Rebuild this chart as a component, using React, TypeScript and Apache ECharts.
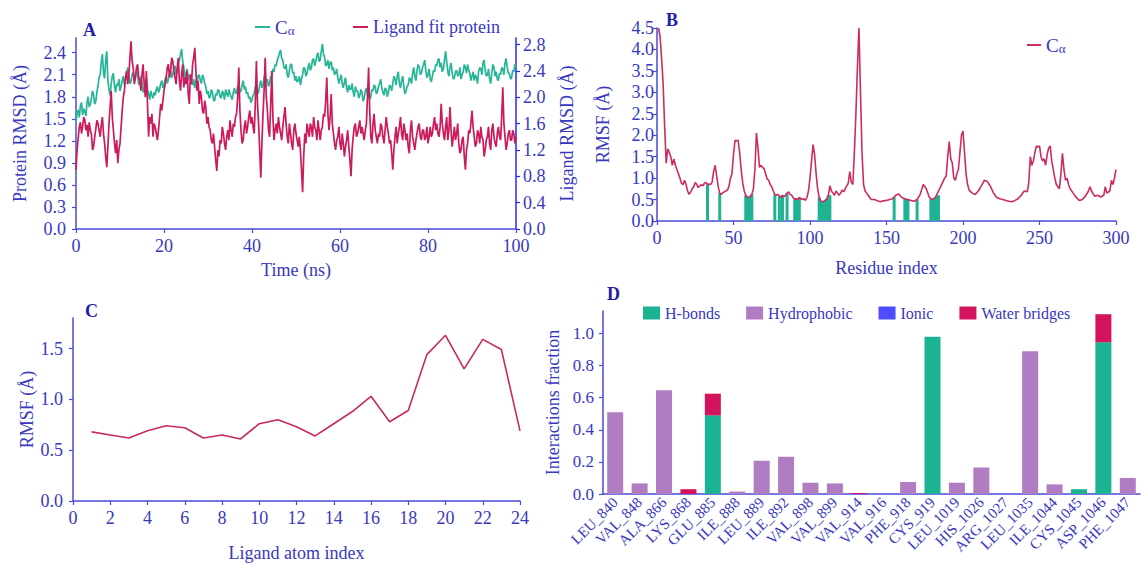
import React, { useEffect, useRef } from "react";
import * as echarts from "echarts";

const FONT = '"Liberation Serif", "Times New Roman", Times, serif';
const TEXT = "#3838c0";
const AXIS = "#4a4ad8";
const RIGHT_AXIS = "#2626ff";
const GREEN = "#27b598";
const CRIMSON = "#cc1a5c";
const LINE_RED = "#cc2b63";

// ---------- Panel A : RMSD vs time (one frame every 0.25 ns) ----------
const rmsdTimeStepNs = 0.25;
const caRmsd = [
  1.45, 1.58, 1.62, 1.52, 1.68, 1.72, 1.55, 1.64, 1.6, 1.54, 1.72, 1.8, 1.66, 1.7, 1.78, 1.88, 1.82, 1.7, 1.74, 1.86,
  1.95, 2.06, 2.1, 2.28, 2.38, 2.12, 2.05, 2.3, 2.42, 2.02, 1.9, 1.82, 1.98, 2.08, 2.12, 1.94, 1.86, 1.98, 1.95, 2.04,
  1.88, 1.94, 2.02, 2.08, 1.96, 2.04, 2.12, 2.2, 2.08, 1.98, 2.0, 2.1, 2.14, 2.02, 2.06, 2.16, 2.1, 1.96, 2.02, 2.08,
  1.98, 1.86, 1.92, 1.98, 2.05, 1.9, 1.84, 1.76, 1.88, 1.82, 1.78, 1.86, 1.82, 1.9, 1.94, 1.86, 1.9, 1.98, 2.02, 1.92,
  1.96, 2.04, 2.08, 1.98, 2.04, 2.12, 2.16, 2.06, 2.1, 2.2, 2.22, 2.1, 2.14, 2.26, 2.3, 2.38, 2.45, 2.28, 2.2, 2.06,
  2.12, 2.18, 2.02, 2.1, 2.08, 2.0, 1.96, 2.04, 1.92, 2.02, 2.0, 2.08, 2.1, 2.02, 1.98, 2.1, 2.06, 1.98, 1.94, 1.84,
  1.88, 1.78, 1.8, 1.9, 1.86, 1.76, 1.74, 1.84, 1.82, 1.9, 1.88, 1.8, 1.78, 1.88, 1.84, 1.76, 1.9, 1.84, 1.8, 1.9,
  1.84, 1.8, 1.76, 1.86, 1.92, 1.84, 1.86, 1.94, 1.96, 1.86, 1.88, 1.96, 2.02, 1.9, 1.94, 1.84, 1.86, 1.78, 1.8, 1.72,
  1.76, 1.82, 1.84, 1.94, 1.92, 1.84, 1.86, 1.96, 2.02, 1.92, 1.96, 2.06, 2.12, 2.0, 2.04, 1.94, 1.98, 2.08, 2.06, 2.18,
  2.14, 2.24, 2.22, 2.3, 2.34, 2.4, 2.44, 2.32, 2.3, 2.2, 2.18, 2.24, 2.1, 2.06, 2.16, 2.24, 2.24, 2.12, 2.14, 2.02,
  2.08, 2.0, 2.02, 2.08, 1.96, 2.04, 2.1, 2.2, 2.18, 2.08, 2.12, 2.2, 2.26, 2.16, 2.2, 2.3, 2.32, 2.22, 2.28, 2.36,
  2.4, 2.28, 2.3, 2.42, 2.52, 2.38, 2.34, 2.22, 2.24, 2.3, 2.18, 2.26, 2.28, 2.16, 2.2, 2.1, 2.12, 2.18, 2.06, 1.98,
  2.04, 2.1, 1.98, 1.92, 2.0, 2.06, 1.92, 1.86, 1.96, 1.9, 1.9, 1.98, 1.86, 1.8, 1.94, 1.88, 1.88, 1.78, 1.82, 1.9,
  1.86, 1.74, 1.78, 1.88, 1.92, 1.82, 1.84, 1.76, 1.8, 1.9, 1.88, 1.96, 1.94, 1.84, 1.86, 1.94, 1.98, 2.04, 1.92, 1.86,
  1.82, 1.92, 1.9, 1.8, 1.86, 1.96, 1.94, 1.88, 1.98, 2.08, 2.04, 1.96, 2.08, 2.14, 1.98, 1.92, 2.02, 2.08, 1.94, 1.84,
  1.88, 1.94, 1.96, 2.06, 2.04, 1.98, 2.12, 2.2, 2.08, 2.02, 2.16, 2.24, 2.2, 2.1, 2.12, 2.2, 2.24, 2.3, 2.16, 2.06,
  2.1, 2.18, 2.04, 2.0, 2.08, 2.16, 2.14, 2.24, 2.22, 2.3, 2.32, 2.2, 2.26, 2.14, 2.18, 2.3, 2.42, 2.28, 2.14, 2.08,
  2.2, 2.26, 2.12, 2.04, 2.06, 2.14, 2.16, 2.08, 2.1, 2.2, 2.04, 2.1, 2.14, 2.24, 2.2, 2.12, 2.24, 2.16, 2.12, 2.02,
  2.08, 2.14, 2.02, 2.1, 2.06, 1.98, 2.14, 2.2, 2.18, 2.1, 2.26, 2.3, 2.16, 2.08, 2.1, 2.18, 2.04, 1.98, 2.12, 2.24,
  2.2, 2.08, 2.14, 2.04, 2.02, 2.12, 2.1, 2.2, 2.18, 2.1, 2.26, 2.32, 2.2, 2.12, 2.12, 2.04, 2.06, 2.16, 2.14, 2.24,
  2.2,
];
const ligandRmsd = [
  0.9, 1.2, 1.38, 1.55, 1.62, 1.45, 1.55, 1.7, 1.66, 1.5, 1.58, 1.4, 1.62, 1.5, 1.44, 1.2, 1.25, 1.4, 1.52, 1.65,
  1.6, 1.5, 1.4, 1.58, 1.7, 1.45, 1.3, 1.1, 0.94, 1.25, 1.6, 1.85, 2.1, 1.7, 1.5, 1.3, 1.15, 1.35, 1.0, 1.2,
  1.3, 1.55, 1.8, 2.0, 2.1, 2.3, 2.4, 2.2, 2.3, 2.6, 2.85, 2.55, 2.45, 2.2, 2.3, 2.45, 2.5, 2.3, 2.25, 2.1,
  2.35, 2.5, 2.2, 2.0, 2.4, 1.9, 1.4, 1.7, 1.6, 1.75, 1.4, 1.6, 1.55, 1.45, 1.35, 1.5, 1.7, 1.9, 1.8, 1.95,
  2.1, 2.2, 2.3, 2.45, 2.5, 2.3, 2.4, 2.6, 2.55, 2.4, 2.3, 2.2, 2.45, 2.6, 2.25, 2.1, 2.35, 2.5, 2.15, 2.3,
  2.2, 2.4, 2.05, 1.9, 2.35, 2.2, 2.5, 2.6, 2.75, 2.4, 2.1, 2.25, 1.9, 2.1, 2.0, 1.8, 1.75, 1.95, 1.85, 1.6,
  1.7, 1.55, 1.5, 1.35, 1.3, 1.45, 1.25, 1.05, 0.88, 1.2, 1.1, 1.35, 1.3, 1.55, 1.45, 1.3, 1.2, 1.4, 1.5, 1.35,
  1.65, 1.5, 1.4, 1.6, 1.55, 1.7, 1.75, 2.0, 2.45, 1.8, 1.5, 1.3, 1.35, 1.55, 1.65, 1.45, 1.55, 1.7, 1.8, 1.6,
  1.7, 1.55, 1.45, 1.9, 2.55, 1.9, 1.6, 1.2, 0.78, 1.3, 1.75, 2.1, 2.6, 2.0, 1.8, 1.5, 1.4, 1.9, 2.4, 1.7,
  1.35, 1.5, 1.6, 1.45, 1.7, 1.55, 1.45, 1.35, 1.55, 1.7, 1.85, 1.6, 1.4, 1.3, 1.6, 1.45, 1.3, 1.2, 1.5, 1.6,
  1.45, 1.35, 1.25, 1.4, 1.2, 0.9, 0.56, 1.1, 1.45, 1.3, 1.6, 1.5, 1.4, 1.6, 1.55, 1.4, 1.7, 1.55, 1.5, 1.35,
  1.65, 1.5, 1.35, 1.5, 1.55, 1.75, 1.7, 1.95, 2.3, 1.75, 1.5, 1.7, 2.05, 1.6, 1.45, 1.3, 1.2, 1.35, 1.4, 1.55,
  1.3, 1.2, 1.45, 1.3, 1.1, 1.25, 1.35, 1.5, 1.25, 1.05, 0.8, 1.2, 1.4, 1.55, 1.6, 1.4, 1.45, 1.55, 1.65, 1.45,
  1.55, 1.45, 1.35, 1.5, 1.6, 2.0, 2.45, 1.8, 1.4, 1.3, 1.6, 1.75, 1.5, 1.4, 1.3, 1.45, 1.4, 1.6, 1.55, 1.4,
  1.3, 1.5, 1.7, 1.55, 1.45, 1.3, 1.35, 1.15, 0.9, 1.2, 1.4, 1.55, 1.3, 1.45, 1.55, 1.7, 1.45, 1.35, 1.6, 1.5,
  1.35, 1.45, 1.25, 1.15, 1.5, 1.65, 1.4, 1.3, 1.2, 1.35, 1.45, 1.55, 1.6, 1.4, 1.35, 1.5, 1.5, 1.35, 1.4, 1.55,
  1.3, 1.4, 1.55, 1.4, 1.45, 1.6, 1.7, 1.5, 1.6, 1.45, 1.4, 1.55, 1.9, 1.6, 1.45, 1.35, 1.55, 1.7, 1.35, 1.5,
  1.85, 1.5, 1.25, 1.4, 1.55, 1.35, 1.45, 1.6, 1.3, 1.15, 1.2, 1.35, 1.4, 1.1, 0.9, 1.2, 1.3, 1.5, 1.45, 1.6,
  1.8, 1.55, 1.4, 1.25, 1.3, 1.5, 1.45, 1.3, 1.55, 1.4, 1.35, 1.1, 1.2, 1.35, 1.4, 1.55, 1.3, 1.2, 1.5, 1.6,
  1.4, 1.3, 1.25, 1.45, 1.55, 1.4, 1.35, 1.7, 2.15, 1.6, 1.4, 1.2, 1.3, 1.45, 1.5, 1.35, 1.35, 1.5, 1.45, 1.3,
  1.4,
];
const proteinRmsdTicks = [0, 0.3, 0.6, 0.9, 1.2, 1.5, 1.8, 2.1, 2.4];
const ligandRmsdTicks = [0, 0.4, 0.8, 1.2, 1.6, 2.0, 2.4, 2.8];

// ---------- Panel B : protein RMSF by residue ----------
const rmsfByResidue: [number, number][] = [
  [1, 4.5], [2, 4.3], [3, 3.8], [4, 3.2], [5, 2.2], [6, 1.35], [7, 1.68], [8, 1.6], [9, 1.5], [10, 1.3],
  [11, 1.45], [12, 1.3], [13, 1.2], [14, 1.1], [15, 1.0], [16, 0.88], [17, 0.85], [18, 0.95], [19, 0.85], [20, 0.7],
  [21, 0.62], [22, 0.68], [23, 0.75], [24, 0.8], [25, 0.9], [26, 0.85], [27, 0.78], [28, 0.82], [29, 0.85], [30, 0.82],
  [31, 0.88], [32, 0.9], [33, 0.85], [34, 0.86], [35, 0.85], [36, 0.9], [37, 1.15], [38, 1.3], [39, 1.05], [40, 0.8],
  [41, 0.65], [42, 0.62], [43, 0.66], [44, 0.68], [45, 0.7], [46, 0.72], [47, 0.8], [48, 1.0], [49, 1.1], [50, 1.55],
  [51, 1.88], [52, 1.87], [53, 1.88], [54, 1.6], [55, 1.2], [56, 0.9], [57, 0.7], [58, 0.6], [59, 0.55], [60, 0.55],
  [61, 0.58], [62, 0.62], [63, 0.75], [64, 1.2], [65, 2.05], [66, 1.7], [67, 1.25], [68, 1.3], [69, 1.25], [70, 1.22],
  [71, 1.1], [72, 0.98], [73, 0.95], [74, 0.85], [75, 0.8], [76, 0.7], [77, 0.62], [78, 0.6], [79, 0.62], [80, 0.58],
  [81, 0.55], [82, 0.6], [83, 0.57], [84, 0.6], [85, 0.65], [86, 0.68], [87, 0.62], [88, 0.6], [89, 0.55], [90, 0.5],
  [91, 0.52], [92, 0.5], [93, 0.55], [94, 0.52], [95, 0.5], [96, 0.52], [97, 0.48], [98, 0.55], [99, 0.7], [100, 1.0],
  [101, 1.4], [102, 1.78], [103, 1.55], [104, 1.1], [105, 0.75], [106, 0.55], [107, 0.47], [108, 0.45], [109, 0.46], [110, 0.48],
  [111, 0.52], [112, 0.6], [113, 0.82], [114, 0.7], [115, 0.65], [116, 0.6], [117, 0.7], [118, 0.65], [119, 0.6], [120, 0.65],
  [121, 0.72], [122, 0.68], [123, 0.75], [124, 0.82], [125, 0.88], [126, 1.15], [127, 0.9], [128, 0.85], [129, 1.6], [130, 2.5],
  [131, 3.6], [132, 4.5], [133, 3.0], [134, 1.6], [135, 0.85], [136, 0.7], [137, 0.65], [138, 0.6], [139, 0.55], [140, 0.5],
  [142, 0.5], [144, 0.47], [146, 0.45], [148, 0.47], [150, 0.48], [152, 0.5], [154, 0.52], [156, 0.6], [158, 0.63], [160, 0.55],
  [162, 0.52], [164, 0.5], [166, 0.48], [168, 0.46], [170, 0.5], [172, 0.62], [174, 0.85], [176, 0.75], [178, 0.55], [180, 0.5],
  [182, 0.55], [184, 0.7], [186, 0.85], [188, 1.0], [189, 1.05], [190, 1.5], [191, 1.85], [192, 1.45], [193, 1.35], [194, 1.0],
  [195, 0.95], [196, 1.1], [197, 1.2], [198, 1.6], [199, 2.0], [200, 2.1], [201, 1.6], [202, 1.1], [203, 0.85], [204, 0.72],
  [206, 0.65], [208, 0.62], [210, 0.7], [212, 0.82], [214, 0.95], [216, 0.92], [218, 0.8], [220, 0.65], [222, 0.55], [224, 0.52],
  [226, 0.5], [228, 0.48], [230, 0.46], [232, 0.45], [234, 0.48], [236, 0.52], [238, 0.6], [240, 0.7], [242, 0.68], [243, 0.9],
  [244, 1.5], [245, 1.3], [246, 1.4], [247, 1.6], [248, 1.75], [249, 1.72], [250, 1.75], [251, 1.5], [252, 1.4], [253, 1.45],
  [254, 1.3], [255, 1.55], [256, 1.7], [257, 1.75], [258, 1.4], [259, 1.2], [260, 1.0], [261, 0.85], [262, 0.8], [263, 0.75],
  [264, 1.1], [265, 1.58], [266, 1.2], [267, 0.95], [268, 1.0], [269, 0.85], [270, 0.75], [272, 0.65], [274, 0.55], [276, 0.48],
  [278, 0.5], [280, 0.58], [282, 0.7], [283, 0.8], [284, 0.7], [286, 0.58], [288, 0.6], [290, 0.56], [292, 0.6], [293, 0.8],
  [294, 0.65], [296, 0.7], [297, 0.95], [298, 0.85], [299, 1.0], [300, 1.2],
];
const contactResidues = [33, 41, 58, 59, 60, 61, 62, 77, 80, 82, 85, 90, 91, 92, 93, 106, 107, 108, 109, 110, 111, 112, 113, 155, 162, 163, 164, 170, 179, 180, 181, 182, 183, 184];
const contactRmsf = [0.85, 0.65, 0.6, 0.55, 0.55, 0.58, 0.62, 0.62, 0.58, 0.6, 0.65, 0.5, 0.52, 0.5, 0.55, 0.55, 0.47, 0.45, 0.46, 0.48, 0.52, 0.6, 0.6, 0.56, 0.52, 0.51, 0.5, 0.5, 0.52, 0.5, 0.52, 0.55, 0.58, 0.6];

// ---------- Panel C : ligand RMSF by atom ----------
const ligandAtoms = [1, 2, 3, 4, 5, 6, 7, 8, 9, 10, 11, 12, 13, 14, 15, 16, 17, 18, 19, 20, 21, 22, 23, 24];
const ligandAtomRmsf = [0.68, 0.65, 0.62, 0.69, 0.74, 0.72, 0.62, 0.65, 0.61, 0.76, 0.8, 0.73, 0.64, 0.76, 0.88, 1.03, 0.78, 0.89, 1.44, 1.63, 1.3, 1.59, 1.49, 0.69];
const ligandRmsfTicks = [0, 0.5, 1.0, 1.5];

// ---------- Panel D : interaction fractions ----------
const contactNames = ["LEU_840", "VAL_848", "ALA_866", "LYS_868", "GLU_885", "ILE_888", "LEU_889", "ILE_892", "VAL_898", "VAL_899", "VAL_914", "VAL_916", "PHE_918", "CYS_919", "LEU_1019", "HIS_1026", "ARG_1027", "LEU_1035", "ILE_1044", "CYS_1045", "ASP_1046", "PHE_1047"];
const hBonds = [0, 0, 0, 0, 0.49, 0, 0, 0, 0, 0, 0, 0, 0, 0.98, 0, 0, 0, 0, 0, 0.03, 0.945, 0];
const hydrophobic = [0.51, 0.066, 0.646, 0, 0, 0.015, 0.207, 0.232, 0.07, 0.066, 0, 0, 0.075, 0, 0.07, 0.165, 0, 0.89, 0.06, 0, 0, 0.1];
const ionic = [0, 0, 0, 0, 0, 0, 0, 0, 0, 0, 0, 0, 0, 0, 0, 0, 0, 0, 0, 0, 0, 0];
const waterBridges = [0, 0, 0, 0.03, 0.135, 0, 0, 0, 0, 0, 0.006, 0, 0, 0, 0, 0, 0, 0, 0, 0, 0.175, 0];
const fractionTicks = [0, 0.2, 0.4, 0.6, 0.8, 1.0];

const fmt1 = (v: number) => v.toFixed(1);

function valueAxis(opts: any) {
  const color = opts.color || AXIS;
  return {
    type: "value",
    gridIndex: opts.gridIndex,
    position: opts.position,
    min: opts.min,
    max: opts.max,
    interval: opts.interval,
    name: opts.name,
    nameLocation: "middle",
    nameGap: opts.nameGap,
    nameTextStyle: { color: TEXT, fontFamily: FONT, fontSize: opts.nameSize || 18 },
    axisLine: { show: true, onZero: false, lineStyle: { color, width: 1.5 } },
    axisTick: {
      show: true,
      length: 4,
      lineStyle: { color, width: 1.2 },
      ...(opts.ticks ? { customValues: opts.ticks } : {}),
    },
    axisLabel: {
      color: TEXT,
      fontFamily: FONT,
      fontSize: opts.labelSize || 18,
      margin: opts.margin ?? 8,
      formatter: opts.formatter,
      ...(opts.ticks ? { customValues: opts.ticks } : {}),
    },
    splitLine: { show: false },
  };
}

const richCa = {
  m: { fontFamily: FONT, fontSize: 19, color: TEXT, verticalAlign: "bottom", lineHeight: 20 },
  s: { fontFamily: FONT, fontSize: 13, color: TEXT, verticalAlign: "bottom", lineHeight: 16 },
};

export default function App() {
  const ref = useRef<HTMLDivElement>(null);

  useEffect(() => {
    if (!ref.current) return;
    const chart = echarts.init(ref.current, null, { renderer: "svg" });

    const option: any = {
      animation: false,
      backgroundColor: "#ffffff",
      grid: [
        { left: 76, top: 38, width: 440, height: 191 },
        { left: 657, top: 28, width: 459, height: 193 },
        { left: 73, top: 318, width: 447, height: 183 },
        { left: 603, top: 311, width: 537, height: 183 },
      ],
      graphic: [
        { type: "text", left: 83, top: 21, style: { text: "A", font: `bold 18px ${FONT}`, fill: "#1e1ea8" } },
        { type: "text", left: 666, top: 11, style: { text: "B", font: `bold 18px ${FONT}`, fill: "#1e1ea8" } },
        { type: "text", left: 85, top: 302, style: { text: "C", font: `bold 18px ${FONT}`, fill: "#1e1ea8" } },
        { type: "text", left: 607, top: 285, style: { text: "D", font: `bold 18px ${FONT}`, fill: "#1e1ea8" } },
      ],
      legend: [
        {
          data: ["Cα"], left: 250, top: 13, icon: "rect", itemWidth: 15, itemHeight: 2, selectedMode: false,
          formatter: () => "{m|C}{s|α}",
          textStyle: { color: TEXT, fontFamily: FONT, fontSize: 18, rich: richCa },
        },
        {
          data: ["Ligand fit protein"], left: 348, top: 13, icon: "rect", itemWidth: 15, itemHeight: 2, selectedMode: false,
          textStyle: { color: TEXT, fontFamily: FONT, fontSize: 18 },
        },
        {
          data: ["Cα RMSF"], left: 1022, top: 31, icon: "rect", itemWidth: 14, itemHeight: 2, selectedMode: false,
          formatter: () => "{m|C}{s|α}",
          textStyle: { color: TEXT, fontFamily: FONT, fontSize: 18, rich: richCa },
        },
        {
          data: ["H-bonds", "Hydrophobic", "Ionic", "Water bridges"], left: 638, top: 300,
          icon: "rect", itemWidth: 17, itemHeight: 13, itemGap: 26, selectedMode: false,
          textStyle: { color: TEXT, fontFamily: FONT, fontSize: 16 },
        },
      ],
      xAxis: [
        valueAxis({ gridIndex: 0, min: 0, max: 100, interval: 20, name: "Time (ns)", nameGap: 32, margin: 8 }),
        valueAxis({ gridIndex: 1, min: 0, max: 300, interval: 50, name: "Residue index", nameGap: 38, margin: 8 }),
        valueAxis({ gridIndex: 2, min: 0, max: 24, interval: 2, name: "Ligand atom index", nameGap: 43, margin: 8 }),
        {
          type: "category",
          gridIndex: 3,
          data: contactNames,
          axisLine: { show: true, lineStyle: { color: AXIS, width: 1.5 } },
          axisTick: { show: false },
          axisLabel: { color: TEXT, fontFamily: FONT, fontSize: 15, rotate: 45, interval: 0, margin: 6 },
          splitLine: { show: false },
        },
      ],
      yAxis: [
        valueAxis({ gridIndex: 0, min: 0, max: 2.6, ticks: proteinRmsdTicks, name: "Protein RMSD (Å)", nameGap: 47, margin: 10, formatter: fmt1 }),
        valueAxis({ gridIndex: 0, position: "right", color: RIGHT_AXIS, min: 0, max: 2.9, ticks: ligandRmsdTicks, name: "Ligand RMSD (Å)", nameGap: 42, margin: 7, formatter: fmt1 }),
        valueAxis({ gridIndex: 1, min: 0, max: 4.5, interval: 0.5, name: "RMSF (Å)", nameGap: 45, margin: 3, formatter: fmt1 }),
        valueAxis({ gridIndex: 2, min: 0, max: 1.8, ticks: ligandRmsfTicks, name: "RMSF (Å)", nameGap: 37, margin: 10, formatter: fmt1 }),
        valueAxis({ gridIndex: 3, min: 0, max: 1.14, ticks: fractionTicks, name: "Interactions fraction", nameGap: 41, margin: 9, labelSize: 17, formatter: fmt1 }),
      ],
      series: [
        {
          name: "Cα", type: "line", xAxisIndex: 0, yAxisIndex: 0, showSymbol: false, symbol: "none",
          color: GREEN, lineStyle: { color: GREEN, width: 1.7 },
          data: caRmsd.map((v, i) => [i * rmsdTimeStepNs, v]),
        },
        {
          name: "Ligand fit protein", type: "line", xAxisIndex: 0, yAxisIndex: 1, showSymbol: false, symbol: "none",
          color: CRIMSON, lineStyle: { color: CRIMSON, width: 1.7 },
          data: ligandRmsd.map((v, i) => [i * rmsdTimeStepNs, v]),
        },
        {
          name: "contacts", type: "bar", xAxisIndex: 1, yAxisIndex: 2, barWidth: 3, z: 1,
          itemStyle: { color: "#1fb393" },
          data: contactResidues.map((r, i) => [r, contactRmsf[i]]),
        },
        {
          name: "Cα RMSF", type: "line", xAxisIndex: 1, yAxisIndex: 2, showSymbol: false, symbol: "none", z: 3,
          color: LINE_RED, lineStyle: { color: LINE_RED, width: 1.6 },
          data: rmsfByResidue,
        },
        {
          name: "Ligand RMSF", type: "line", xAxisIndex: 2, yAxisIndex: 3, showSymbol: false, symbol: "none",
          color: "#c92a5c", lineStyle: { color: "#c92a5c", width: 1.6 },
          data: ligandAtoms.map((a, i) => [a, ligandAtomRmsf[i]]),
        },
        { name: "H-bonds", type: "bar", stack: "d", xAxisIndex: 3, yAxisIndex: 4, barWidth: 16, itemStyle: { color: "#1bb394" }, data: hBonds },
        { name: "Hydrophobic", type: "bar", stack: "d", xAxisIndex: 3, yAxisIndex: 4, barWidth: 16, itemStyle: { color: "#b07cc2" }, data: hydrophobic },
        { name: "Ionic", type: "bar", stack: "d", xAxisIndex: 3, yAxisIndex: 4, barWidth: 16, itemStyle: { color: "#4d4dff" }, data: ionic },
        { name: "Water bridges", type: "bar", stack: "d", xAxisIndex: 3, yAxisIndex: 4, barWidth: 16, itemStyle: { color: "#d3135c" }, data: waterBridges },
      ],
    };

    chart.setOption(option);
    return () => chart.dispose();
  }, []);

  return (
    <div
      ref={ref}
      style={{ position: "absolute", left: 0, top: 0, width: 1141, height: 564, background: "#fff" }}
    />
  );
}
